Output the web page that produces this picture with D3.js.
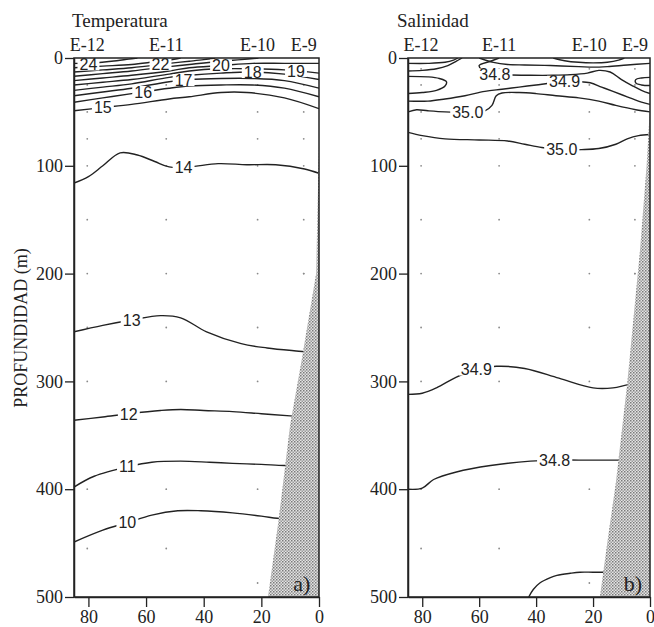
<!DOCTYPE html>
<html><head><meta charset="utf-8">
<script src="https://cdn.jsdelivr.net/npm/d3@7"></script>
<style>body{margin:0;background:#fff}</style>
</head><body>
<svg id="chart" width="654" height="627"></svg>
<script>
// ---------- data ----------
const stationNames = ["E-12", "E-11", "E-10", "E-9"];
const stationKm = [80.4, 53, 21.3, 5.3];
const stationBottom = [455, 455, 487, 200];
const sampleDepths = [10, 25, 50, 75, 100, 150, 200, 250, 300, 400];
const kmTicks = [80, 60, 40, 20, 0];
const depthTicks = [0, 100, 200, 300, 400, 500];

// Temperatura: isotherm levels and their traced [km, depth] paths
const tempLevels = [24, 23, 22, 21, 20, 19, 18, 17, 16, 15, 14, 13, 12, 11, 10];
const tempLines = [
  [[85,5],[80,5],[72,3],[66,1],[63,0]],
  [[85,9],[75,7.5],[65,6],[57,3.5],[52,2],[48,0]],
  [[85,13],[75,11],[65,9],[55,6],[52,5],[45,3],[40,1.5],[36,0]],
  [[85,17],[75,14.5],[65,12],[52,8],[45,6],[34,3],[27,1.5],[21,0]],
  [[85,21],[75,18.5],[65,16],[52,12],[45,9],[34,7],[23,5],[12,5],[0,5]],
  [[85,25],[75,22.5],[65,20],[52,15],[45,12],[34,10],[23,10],[12,11],[0,14]],
  [[85,30],[75,27],[65,24],[52,18],[45,16],[34,14],[23,13],[12,15],[0,20]],
  [[85,35],[75,31.5],[65,28],[52,22],[45,20],[34,19],[23,19],[12,21],[0,28]],
  [[85,41],[75,37],[65,33],[52,28],[45,26],[34,25],[23,25],[12,28],[0,36]],
  [[85,49],[75,46],[65,43],[52,38],[45,36],[34,32],[25,32],[12,37],[0,47]],
  [[85,116],[80,110],[75,100],[69,88],[63,90],[57,96],[52,101],[45,101],[35,98],[25,99],[15,99],[5,103],[0,107]],
  [[85,254],[75,248],[65,243],[55,239],[48,241],[39,254],[27,265],[18,269],[7,272],[3,273]],
  [[85,336],[75,333],[66,330],[55,327],[48,326],[40,327],[30,328],[20,330],[10,332],[5,333]],
  [[85,398],[78,388],[66,379],[58,375],[48,374],[38,375],[30,376],[20,377],[12,378],[6,378]],
  [[85,449],[75,438],[66.5,431],[58,424],[49,420],[41,420],[30,422],[20,425],[14.5,427],[10,428]]
];
const tempLabels = [
  ["24", 80, 6], ["22", 55, 6], ["20", 34, 7], ["18", 23, 13], ["19", 8, 12],
  ["17", 47, 20.5], ["16", 61, 31.5], ["15", 75, 46], ["14", 47, 101.5],
  ["13", 65, 243], ["12", 66, 330], ["11", 66.5, 379], ["10", 66.5, 431]
];

// Salinidad: isohaline levels and traced [km, depth] paths
const salLevels = [34.8, 34.9, 34.9, 34.8, 34.9, 35.0, 35.0, 34.8, 34.8, 35.0, 34.9, 34.8, 34.7];
const salLines = [
  [[85,5],[78,5],[72,4],[69,2],[67.5,0]],
  [[85,12],[80,11.5],[75,10],[71,7],[68,3],[66,0]],
  [[85,17],[78,17.5],[74,19],[71.5,22],[72,26],[75,30],[80,32],[85,33]],
  [[53,0],[56,3],[60,7],[59,11],[56,14],[50,15.5],[42,16],[34,16],[28,15.5],[22,14],[18,11.5],[14,13],[10,20],[6,26],[3,30],[0,33]],
  [[85,40],[78,40],[72,38],[65,35],[58,31],[52,29],[46,27],[40,25],[34,23],[30,22],[25,22],[21,23],[17,27],[13,31],[8,36],[3,41],[0,43]],
  [[85,50],[82,48],[78,49],[72,50],[64,50],[58,49],[55.5,44],[54,35],[52,32.5],[46,32],[40,33],[33,35],[25,37],[18,40],[12,44],[5,48],[0,50]],
  [[0,18],[3,18.5],[5,20],[5,23],[3,25],[0,25.5]],
  [[34,0],[30,2.5],[25,4],[20,4.5],[15,4],[11,2],[9,0]],
  [[60,0],[55,4],[50,6],[44,6.5],[35,7],[25,8],[20,8.5],[15,8],[8,6.5],[0,5]],
  [[85,69],[80,72],[72,75],[60,76],[50,77],[44,80],[38,83],[31,85],[24,85],[18,84],[12,80],[8,75],[4,72],[0,71]],
  [[85,312],[80,311],[75,306],[68,296],[61,289],[54,286],[44,288],[32,297],[20,306],[13,306],[7.5,303],[3,302]],
  [[85,400],[80,399],[76,391],[68,384],[56,378],[42,374],[33,373],[25,373],[15,373],[8,373]],
  [[42.6,500],[41,493],[38.7,487],[35,482],[32.7,480],[28,478],[24.6,477],[20,477],[14,477]]
];
const salLabels = [
  ["34.8", 54.5, 15.3], ["34.9", 30, 22], ["35.0", 64, 50], ["35.0", 31, 85],
  ["34.9", 61, 289], ["34.8", 33.5, 373]
];

// sea-floor / shelf wedge outlines [km, depth]
const shelfTemp = [[0,80],[0.6,150],[1,200],[6,280],[10,340],[14,428],[17.7,500],[0,500]];
const shelfSal = [[0,45],[1.2,100],[3.5,178],[8,302],[12,394],[14.5,440],[17.6,500],[0,500]];

// ---------- drawing ----------
const svg = d3.select("#chart");
const defs = svg.append("defs");
const pat = defs.append("pattern").attr("id","stip").attr("width",3).attr("height",3)
  .attr("patternUnits","userSpaceOnUse");
pat.append("rect").attr("width",3).attr("height",3).attr("fill","#e4e4e4");
pat.append("rect").attr("width",1.5).attr("height",1.5).attr("fill","#7a7a7a");
pat.append("rect").attr("x",1.5).attr("y",1.5).attr("width",1.5).attr("height",1.5).attr("fill","#9a9a9a");

const serif = "'Liberation Serif','DejaVu Serif',serif";
const sans = "'Liberation Sans',Arial,sans-serif";
const ink = "#222";

function panel(id, x0, x1, title, titleX, lines, labels, shelf, tag) {
  const x = d3.scaleLinear().domain([85, 0]).range([x0, x1]);
  const y = d3.scaleLinear().domain([0, 500]).range([58, 597]);
  const g = svg.append("g");

  defs.append("clipPath").attr("id", "clip" + id)
    .append("rect").attr("x", x0).attr("y", 58).attr("width", x1 - x0).attr("height", 539);

  // sample dots
  const dots = [];
  stationKm.forEach((k, i) => {
    sampleDepths.filter(d => d <= stationBottom[i]).forEach(d => dots.push([k, d]));
    dots.push([k, stationBottom[i]]);
  });
  g.append("g").selectAll("circle").data(dots).join("circle")
    .attr("cx", d => x(d[0])).attr("cy", d => y(d[1])).attr("r", 0.9).attr("fill", "#8a8a8a");

  const line = d3.line().x(d => x(d[0])).y(d => y(d[1])).curve(d3.curveCatmullRom.alpha(0.5));
  g.append("g").attr("clip-path", `url(#clip${id})`).selectAll("path").data(lines).join("path")
    .attr("d", line).attr("fill", "none").attr("stroke", ink).attr("stroke-width", 1.4);

  // shelf wedge
  g.append("path").attr("d", d3.line().x(d => x(d[0])).y(d => y(d[1]))(shelf) + "Z")
    .attr("fill", "url(#stip)").attr("stroke", "none");

  // contour labels with white backing that breaks the line
  const lg = g.append("g").selectAll("g").data(labels).join("g")
    .attr("transform", d => `translate(${x(d[1])},${y(d[2])})`);
  lg.append("rect").attr("fill", "#fff");
  const tx = lg.append("text").attr("dy", "0.36em")
    .attr("text-anchor", "middle").attr("font-family", sans).attr("font-size", 16)
    .attr("fill", ink).text(d => d[0]);
  tx.each(function() {
    const b = this.getBBox();
    d3.select(this.previousSibling).attr("x", b.x - 2).attr("width", b.width + 4)
      .attr("y", -6).attr("height", 12);
  });

  // frame
  g.append("rect").attr("x", x0).attr("y", 58).attr("width", x1 - x0).attr("height", 539)
    .attr("fill", "none").attr("stroke", ink).attr("stroke-width", 1.5);

  // axes
  const ya = g.append("g").attr("transform", `translate(${x0},0)`)
    .call(d3.axisLeft(y).tickValues(depthTicks).tickFormat(d3.format("d")).tickSize(9).tickSizeOuter(0).tickPadding(2));
  const xa = g.append("g").attr("transform", `translate(0,597)`)
    .call(d3.axisBottom(x).tickValues(kmTicks).tickFormat(d3.format("d")).tickSize(10).tickSizeOuter(0).tickPadding(3));
  [ya, xa].forEach(a => {
    a.select(".domain").attr("stroke", ink).attr("stroke-width", 1.5);
    a.selectAll(".tick line").attr("stroke", ink).attr("stroke-width", 1.3);
    a.selectAll("text").attr("font-family", serif).attr("font-size", 18).attr("fill", ink);
  });

  // station names
  g.append("g").selectAll("text").data(stationNames).join("text")
    .attr("x", (d, i) => x(stationKm[i])).attr("y", 51).attr("text-anchor", "middle")
    .attr("font-family", serif).attr("font-size", 18).attr("fill", ink).text(d => d);

  // title
  g.append("text").attr("x", titleX).attr("y", 27).attr("font-family", serif)
    .attr("font-size", 19).attr("fill", ink).text(title);

  // panel tag
  g.append("text").attr("x", x(6)).attr("y", 591).attr("text-anchor", "middle")
    .attr("font-family", serif).attr("font-size", 22).attr("fill", ink).text(tag);
}

panel("T", 74, 319, "Temperatura", 72, tempLines, tempLabels, shelfTemp, "a)");
panel("S", 408, 650, "Salinidad", 397, salLines, salLabels, shelfSal, "b)");

svg.append("text").attr("transform", "translate(27,328) rotate(-90)")
  .attr("text-anchor", "middle").attr("font-family", serif).attr("font-size", 18)
  .attr("fill", ink).text("PROFUNDIDAD (m)");
</script>
</body></html>
